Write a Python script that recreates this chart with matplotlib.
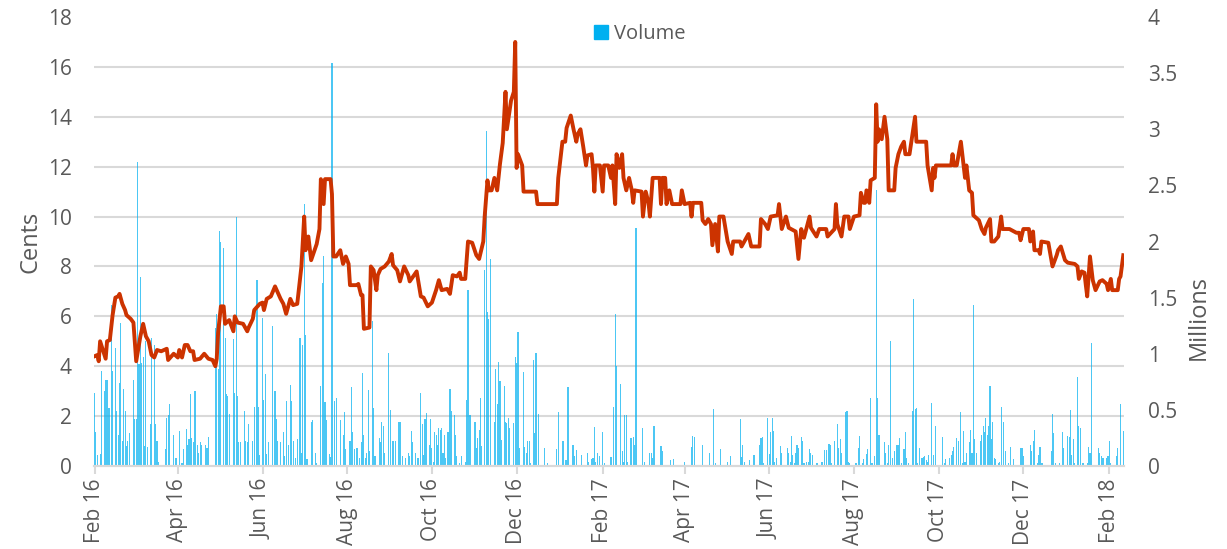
import numpy as np
import pandas as pd
import matplotlib
matplotlib.use("Agg")
import matplotlib.pyplot as plt
from matplotlib.patches import Patch
from matplotlib.ticker import FuncFormatter

plt.rcParams["font.family"] = ["Open Sans", "DejaVu Sans"]

start = pd.Timestamp("2016-02-01")

# share price (cents), days counted from 1 Feb 2016
price_days = [
    0, 2, 3, 4, 6, 8, 9, 11, 13, 15,
    17, 18, 20, 22, 23, 26, 28, 30, 33, 35,
    37, 39, 41, 43, 45, 48, 52, 53, 57, 60,
    61, 63, 65, 67, 69, 71, 72, 76, 79, 82,
    85, 87, 88, 89, 91, 93, 94, 97, 100, 101,
    103, 107, 110, 111, 114, 115, 119, 121, 122, 124,
    127, 130, 134, 136, 138, 141, 143, 146, 149, 151,
    152, 154, 156, 160, 162, 163, 165, 166, 170, 171,
    172, 174, 177, 179, 181, 183, 184, 189, 190, 192,
    193, 194, 198, 199, 201, 203, 204, 206, 209, 212,
    214, 215, 218, 220, 223, 226, 227, 232, 235, 237,
    240, 243, 246, 248, 250, 254, 256, 258, 261, 263,
    264, 267, 269, 272, 275, 277, 280, 281, 283, 284,
    286, 288, 290, 292, 294, 296, 297, 300, 302, 303,
    304, 305, 308, 309, 318, 319, 333, 334, 337, 339,
    340, 343, 345, 347, 348, 350, 352, 354, 355, 358,
    359, 360, 361, 364, 366, 367, 370, 372, 373, 375,
    376, 378, 380, 381, 383, 385, 387, 388, 389, 394,
    395, 397, 399, 400, 402, 407, 408, 409, 411, 412,
    414, 416, 422, 423, 425, 429, 430, 431, 437, 438,
    440, 442, 444, 445, 447, 449, 450, 453, 456, 459,
    460, 465, 466, 468, 471, 473, 479, 480, 483, 485,
    487, 492, 493, 495, 498, 500, 505, 507, 509, 511,
    515, 516, 520, 522, 527, 528, 533, 534, 535, 538,
    540, 543, 544, 547, 551, 552, 554, 555, 556, 558,
    559, 562, 563, 564, 565, 567, 569, 571, 572, 576,
    577, 579, 581, 583, 584, 587, 591, 592, 599, 600,
    603, 604, 605, 606, 617, 618, 619, 621, 624, 626,
    627, 628, 630, 632, 633, 637, 639, 641, 642, 645,
    646, 648, 651, 653, 654, 659, 664, 666, 667, 669,
    673, 674, 676, 677, 680, 681, 682, 687, 690, 693,
    694, 696, 699, 701, 706, 708, 709, 711, 713, 714,
    715, 717, 719, 721, 724, 726, 729, 730, 732, 733,
    737, 738, 739, 741,
]
price_cents = [
    4.4, 4.45, 4.2, 5.0, 4.65, 4.3, 5.0, 5.05, 6.05, 6.75,
    6.8, 6.9, 6.5, 6.25, 6.05, 5.9, 5.75, 4.2, 5.2, 5.7,
    5.2, 5.0, 4.45, 4.35, 4.65, 4.6, 4.7, 4.25, 4.5, 4.35,
    4.65, 4.35, 4.85, 4.85, 4.6, 4.6, 4.25, 4.3, 4.5, 4.3,
    4.25, 4.0, 4.3, 5.35, 6.4, 6.4, 5.7, 5.85, 5.4, 6.0,
    5.75, 5.7, 5.4, 5.55, 5.9, 6.25, 6.5, 6.55, 6.25, 6.7,
    6.8, 7.2, 6.7, 6.5, 6.1, 6.7, 6.45, 6.5, 8.0, 10.0,
    8.65, 9.2, 8.25, 8.9, 9.5, 11.5, 10.5, 11.5, 11.5, 10.9,
    8.4, 8.4, 8.65, 8.1, 8.4, 8.1, 7.25, 7.25, 7.3, 6.85,
    6.85, 5.5, 5.55, 8.0, 7.85, 7.05, 7.65, 7.9, 8.0, 8.2,
    8.5, 8.05, 7.85, 7.4, 8.0, 7.65, 7.4, 7.8, 6.8, 6.75,
    6.4, 6.55, 7.05, 7.45, 7.05, 7.1, 6.9, 7.65, 7.6, 7.75,
    7.5, 7.5, 9.0, 8.95, 8.45, 8.3, 9.0, 10.0, 11.45, 11.05,
    11.05, 11.55, 11.05, 12.1, 12.95, 15.0, 13.5, 14.65, 15.0, 17.0,
    11.95, 12.5, 12.05, 11.0, 11.0, 10.5, 10.5, 11.55, 13.0, 13.0,
    13.55, 14.05, 13.5, 13.0, 13.3, 13.5, 12.8, 12.05, 12.45, 12.5,
    11.95, 11.0, 12.05, 12.05, 11.0, 12.05, 12.05, 11.55, 12.05, 10.5,
    12.5, 11.95, 12.5, 11.55, 11.05, 11.55, 11.05, 10.55, 11.05, 11.0,
    10.0, 11.0, 10.55, 10.0, 11.55, 11.55, 10.5, 11.55, 11.55, 10.5,
    11.05, 10.5, 10.5, 11.05, 10.5, 10.55, 10.0, 10.55, 10.55, 9.85,
    9.7, 9.9, 9.7, 8.85, 9.7, 8.6, 10.0, 10.0, 9.0, 8.5,
    9.0, 9.0, 8.8, 9.0, 9.3, 8.8, 8.8, 9.9, 9.7, 9.5,
    10.0, 10.05, 10.5, 9.5, 10.0, 9.55, 9.4, 8.3, 9.5, 9.15,
    10.0, 9.55, 9.2, 9.5, 9.5, 9.2, 9.5, 10.5, 9.7, 9.2,
    10.0, 10.0, 9.5, 10.0, 10.05, 10.95, 10.55, 10.55, 11.05, 10.55,
    11.45, 11.55, 14.5, 13.0, 13.5, 13.1, 14.0, 13.1, 11.05, 11.05,
    11.95, 12.5, 12.8, 13.0, 12.5, 12.5, 14.0, 13.0, 13.0, 12.05,
    11.05, 11.95, 11.55, 12.05, 12.05, 12.5, 12.05, 12.05, 13.0, 12.05,
    11.55, 12.05, 11.05, 10.95, 10.05, 9.85, 9.5, 9.3, 9.55, 9.9,
    9.0, 9.0, 9.2, 10.0, 9.5, 9.5, 9.35, 9.35, 9.05, 9.5,
    9.5, 9.0, 9.4, 8.65, 8.65, 8.5, 9.0, 8.95, 8.0, 8.45,
    8.65, 8.8, 8.25, 8.15, 8.1, 8.0, 7.5, 7.8, 7.75, 7.25,
    6.8, 8.4, 7.45, 7.05, 7.4, 7.45, 7.3, 7.05, 7.5, 7.05,
    7.05, 7.5, 7.6, 8.45,
]

# traded volume (millions), days counted from 1 Feb 2016
vol_days = [
    0, 1, 2, 4, 5, 7, 8, 9, 10, 11,
    12, 13, 15, 16, 17, 18, 19, 20, 21, 22,
    23, 24, 25, 28, 29, 30, 31, 32, 33, 34,
    35, 36, 37, 38, 40, 41, 43, 44, 45, 46,
    51, 52, 53, 54, 57, 58, 59, 61, 63, 64,
    66, 67, 68, 69, 70, 71, 72, 73, 74, 75,
    76, 77, 80, 81, 82, 87, 88, 89, 90, 91,
    93, 94, 95, 96, 97, 100, 101, 102, 103, 104,
    105, 108, 109, 110, 111, 114, 115, 117, 118, 119,
    121, 122, 123,
    124, 125, 128, 130, 131, 132, 134, 136, 137, 138,
    140, 141, 142, 143, 145, 146, 148, 149, 150, 151,
    152, 153, 156, 157, 159, 160, 163, 164, 165, 166,
    167, 169, 170, 171, 173, 174, 177, 179, 180, 181,
    184, 185, 186, 187, 189, 191, 192, 193, 194, 195,
    196, 197, 198, 200, 201, 202, 205, 206, 207, 208,
    209, 212, 213, 215, 217, 219, 220, 222, 224, 226,
    227, 228, 229, 231, 233, 235, 236, 237, 238, 239,
    241, 242, 243, 244, 245, 246, 247, 248, 249,
    250, 251, 252, 253, 254, 255, 256, 257, 259, 260,
    261, 263, 264, 267, 268, 269, 270, 271, 274, 275,
    276, 277, 278, 279, 281, 282, 283, 284, 285, 288,
    289, 290, 291, 292, 293, 295, 296, 297, 298, 299,
    302, 303, 304, 305, 306, 309, 310, 311, 312, 313,
    314, 316, 317, 318, 320, 324, 326, 333, 334, 337,
    338, 339, 340, 341, 344, 345, 346, 347, 351, 355,
    356, 358, 359, 360, 361, 362, 364, 366, 367, 372,
    374, 375, 376,
    379, 380, 381, 382, 383, 384, 386, 387, 388, 389,
    390, 395, 396, 400, 401, 402, 403, 408, 409, 415,
    417, 425, 430, 431, 432, 438, 443, 446, 447, 451,
    456, 458, 465, 466, 467, 468, 472, 475, 479, 480,
    481, 482, 485, 486, 487, 488, 489, 490, 491, 494,
    495, 499, 500, 501, 502, 503,
    504, 505, 506, 507, 509, 510, 511, 513, 514, 515,
    516, 517, 520, 521, 524, 526, 527, 529, 530, 531,
    533, 535, 536, 537, 538, 541, 542, 543, 544, 548,
    549, 550, 551, 553, 554, 556, 557, 559, 560, 562,
    563, 564, 565, 569, 570, 571, 572, 573, 575, 576,
    578, 579, 580, 581, 583, 584, 585, 586, 589, 590,
    591, 592, 593, 594, 596, 597, 598, 599, 600, 601,
    603, 604, 606, 611, 612, 613, 616, 617, 618, 619,
    621, 622, 624, 625, 626, 627,
    628, 630, 631, 632, 633, 634, 635, 638, 639, 640,
    641, 642, 643, 644, 645, 646, 647, 648, 649, 651,
    652, 653, 655, 656, 658, 660, 662, 667, 668, 669,
    674, 675, 676, 677, 679, 680, 681, 682, 683, 689,
    690, 691, 692, 695, 697, 698, 701, 702, 703, 704,
    705, 706, 708, 709, 710, 712, 715, 716, 717, 718,
    723, 724, 725, 726, 727, 729, 730, 731, 732, 736,
    737, 739, 741,
]
vol_mln = [
    .65, .30, .10, .11, .85, .67, .77, .77, .52, .52,
    1.43, .85, 1.05, .49, .28, .74, 1.27, .22, .69, .49,
    .18, .22, .29, .77, .42, .42, 2.71, .91, 1.68, .92,
    .97, .18, 1.11, .17, .37, 1.14, 1.08, .37, .22, .04,
    .15, .43, .45, .55, .28, .07, .07, .31, .03, .15,
    .33, .19, .24, .64, .25, .21, .67, .67, .19, .12,
    .21, .19, .19, .16, .26, 1.23, 1.35, .86, 2.09, 2.00,
    1.94, 1.14, .64, .62, .46, 1.13, .65, 2.22, .62, .21,
    .21, .49, .22, .21, .37, .22, .53, 1.66, .53, .10,
    1.32, .59, .82,
    .11, .21, 1.25, .67, .42, .22, .21, .30, .09, .58,
    .19, .72, .58, .22, .07, .24, 1.14, .12, 1.08, 2.33,
    1.17, .06, .39, .41, .12, .03, .71, 1.63, 1.87, .57,
    .41, .11, .08, 3.59, .58, .61, .41, .28, .48, .15,
    .22, .70, .30, .15, .16, .07, .21, .83, .28, .07,
    .12, .68, .13, 1.29, .52, .09, .25, .21, .39, .36,
    .12, 1.01, .50, .22, .22, .39, .39, .09, .07, .12,
    .09, .31, .21, .12, .07, .65, .37, .10, .42, .47,
    .19, .42, .16, .04, .30, .28, .19, .34, .32,
    .34, .12, .28, .07, .30, .30, .69, .49, .45, .28,
    .09, .03, .09, .04, .59, 1.57, .45, .45, .39, .16,
    .25, .32, .61, .18, 1.75, 2.98, 1.37, 1.31, 1.84, .39,
    .86, .55, .93, .76, .23, .71, .39, .38, .43, .34,
    .38, .97, .92, 1.19, .16, .84, .17, .12, .22, .22,
    .03, .94, .29, 1.01, .46, .16, .03, .15, .48, .22,
    .22, .05, .05, .70, .19, .19, .09, .14, .10, .12,
    .04, .06, .07, .35, .04, .12, .09, .30, .03, .08,
    .53, 1.35, .89,
    .73, .13, .04, .45, .45, .04, .25, .25, .26, .19,
    2.12, .34, .04, .12, .12, .07, .36, .18, .13, .05,
    .06, .04, .17, .27, .26, .19, .12, .51, .03, .15,
    .04, .09, .42, .08, .19, .04, .05, .10, .19, .25,
    .26, .03, .43, .11, .30, .43, .31, .04, .07, .18,
    .12, .16, .12, .04, .27, .10,
    .03, .12, .19, .16, .26, .22, .03, .04, .04, .15,
    .12, .10, .03, .03, .04, .14, .14, .20, .19, .03,
    .22, .37, .16, .24, .12, .48, .49, .04, .03, .03,
    .03, .16, .27, .03, .06, .11, .15, .61, .03, .09,
    2.46, .61, .28, .21, .12, .03, .19, 1.11, .07, .13,
    .19, .19, .25, .03, .15, .30, .07, .03, .49, 1.49,
    .51, .52, .03, .16, .07, .08, .09, .05, .04, .10,
    .56, .10, .36, .26, .03, .06, .07, .10, .13, .17,
    .25, .22, .48, .03, .31, .04,
    .12, .21, .32, .12, 1.43, .24, .12, .22, .28, .36,
    .30, .43, .28, .36, .71, .24, .39, .07, .06, .03,
    .04, .53, .39, .13, .03, .17, .06, .16, .16, .09,
    .19, .13, .22, .32, .03, .10, .17, .03, .03, .13,
    .46, .29, .03, .03, .30, .16, .27, .26, .50, .10,
    .24, .03, .79, .36, .34, .03, .03, .17, .12, 1.10,
    .16, .12, .09, .07, .07, .07, .09, .22, .03, .09,
    .16, .55, .31,
]

price_dates = start + pd.to_timedelta(price_days, unit="D")
vol_dates = start + pd.to_timedelta(vol_days, unit="D")
tick_dates = pd.date_range("2016-02-01", "2018-02-01", freq="2MS")

grey = "#595959"
grid_col = "#D9D9D9"

fig = plt.figure(figsize=(12.27, 5.49), dpi=100)
ax = fig.add_axes([94 / 1227, 1 - 466 / 549, 1030 / 1227, 449 / 549])
ax2 = ax.twinx()
ax.set_zorder(ax2.get_zorder() + 1)
ax.patch.set_visible(False)

# volume bars on the right axis, grid drawn underneath them
ax2.bar(vol_dates, vol_mln, width=0.8, color="#00B0F0", alpha=0.7, linewidth=0)
ax2.set_ylim(0, 4)
ax2.set_yticks(np.arange(0, 4.01, 0.5))
ax2.set_yticks(np.linspace(0, 4, 10), minor=True)
ax2.yaxis.set_major_formatter(FuncFormatter(lambda v, p: f"{v:g}"))
ax2.grid(False)
ax2.grid(which="minor", axis="y", color=grid_col, lw=1.5)
ax2.set_axisbelow(True)
ax2.tick_params(axis="y", which="both", length=0, labelsize=15, labelcolor=grey, pad=17)
ax2.set_ylabel("Millions", fontsize=17, color=grey)
ax2.yaxis.set_label_coords(1.061, 0.33)

# price line on top
ax.plot(price_dates, price_cents, color="#CC3300", lw=2.8, solid_joinstyle="round")
ax.set_ylim(0, 18)
ax.set_yticks(np.arange(0, 19, 2))
ax.tick_params(axis="y", length=0, labelsize=15, labelcolor=grey, pad=16)
ax.set_ylabel("Cents", fontsize=17, color=grey)
ax.yaxis.set_label_coords(-0.05, 0.5)

ax.set_xlim(start - pd.Timedelta(days=0.4), start + pd.Timedelta(days=741.5))
ax.set_xticks(tick_dates)
ax.set_xticklabels([d.strftime("%b %y") for d in tick_dates], rotation=90)
ax.tick_params(axis="x", length=6, width=1.5, color=grid_col, labelsize=15,
               labelcolor=grey, pad=3)

for a in (ax, ax2):
    for s in ("top", "left", "right"):
        a.spines[s].set_visible(False)
    a.spines["bottom"].set_color(grid_col)
    a.spines["bottom"].set_linewidth(1.5)

ax.legend(handles=[Patch(color="#00B0F0", label="Volume")], loc="upper center",
          bbox_to_anchor=(0.53, 1.025), frameon=False, fontsize=14.5,
          labelcolor=grey, handlelength=0.7, handleheight=0.7, handletextpad=0.3)

fig.savefig("out.png", dpi=100)
plt.close(fig)
